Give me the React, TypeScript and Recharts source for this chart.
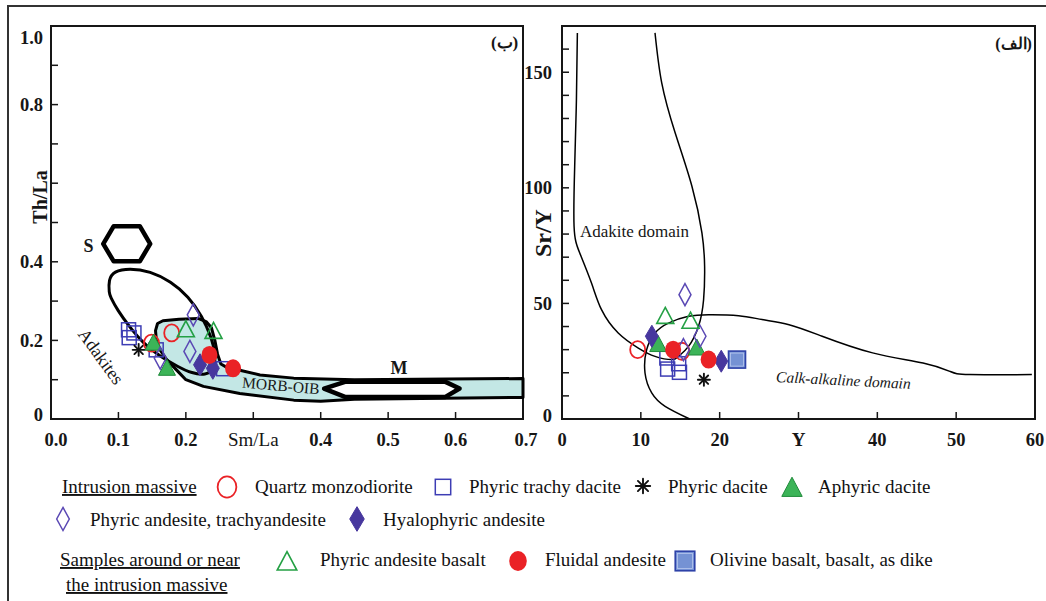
import React from 'react';
import { ScatterChart, Scatter, XAxis, YAxis, ReferenceArea } from 'recharts';

const SERIF = '"Liberation Serif", "Times New Roman", serif';
const INK = '#161616';
const RED = '#ea2226';
const BLUE = '#3d3db4';
const PURPLE = '#5a48b4';
const INDIGO = '#47379e';
const GREEN = '#24a044';
const GREEN_FILL = '#3cb458';
const GREEN_EDGE = '#1f8a3a';
const OLIVINE_FILL = '#7592d4';
const OLIVINE_EDGE = '#2e42a8';
const BAND = '#c3e7e5';

type Pair = [number, number];
type SampleKey =
  | 'trachyDacite' | 'olivine' | 'phyricDacite' | 'quartz' | 'aphyric'
  | 'andesite' | 'andesiteBasalt' | 'hyalophyric' | 'fluidal';

// ---- Sm/La vs Th/La (left panel) ----
const smLaTicks = [0, 0.1, 0.2, 0.3, 0.4, 0.5, 0.6, 0.7];
const smLaTickLabels = ['0.0', '0.1', '0.2', 'Sm/La', '0.4', '0.5', '0.6', '0.7'];
const thLaTicks = [0, 0.1, 0.2, 0.3, 0.4, 0.5, 0.6, 0.7, 0.8, 0.9, 1.0];
const thLaTickLabels = ['0', '', '0.2', '', '0.4', '', '', '', '0.8', '', '1.0'];

const smQuartz: Pair[] = [[0.149, 0.193], [0.179, 0.219]];
const smTrachyDacite: Pair[] = [[0.115, 0.227], [0.116, 0.207], [0.123, 0.219], [0.156, 0.176], [0.256, 0.128]];
const smPhyricDacite: Pair[] = [[0.130, 0.176]];
const smAphyric: Pair[] = [[0.152, 0.193], [0.172, 0.129]];
const smAndesite: Pair[] = [[0.211, 0.265], [0.206, 0.172], [0.162, 0.155]];
const smHyalophyric: Pair[] = [[0.221, 0.138], [0.240, 0.129]];
const smAndesiteBasalt: Pair[] = [[0.200, 0.227], [0.241, 0.223]];
const smFluidal: Pair[] = [[0.235, 0.163], [0.270, 0.129]];
const smOlivine: Pair[] = [];

const sFieldHex: Pair[] = [[0.0775, 0.4455], [0.093, 0.4906], [0.1317, 0.4906], [0.1471, 0.4455], [0.1317, 0.4012], [0.093, 0.4012]];
const mFieldHex: Pair[] = [[0.405, 0.0775], [0.436, 0.0945], [0.585, 0.0945], [0.606, 0.0775], [0.585, 0.0562], [0.436, 0.0562]];
const adakiteField: Pair[] = [
  [0.0863, 0.320], [0.0853, 0.354], [0.093, 0.376], [0.1162, 0.384], [0.1471, 0.376], [0.178, 0.350],
  [0.2038, 0.312], [0.2244, 0.261], [0.2373, 0.2095], [0.244, 0.167], [0.2425, 0.124], [0.2296, 0.112],
  [0.209, 0.116], [0.1884, 0.133], [0.1626, 0.158], [0.1368, 0.1925], [0.1162, 0.235], [0.0982, 0.278], [0.0878, 0.312],
];
const morbOibField: Pair[] = [
  [0.155, 0.225], [0.158, 0.243], [0.166, 0.250], [0.190, 0.254], [0.218, 0.256], [0.230, 0.248],
  [0.238, 0.232], [0.243, 0.200], [0.247, 0.165], [0.252, 0.140], [0.262, 0.130], [0.28, 0.124],
  [0.31, 0.112], [0.36, 0.104], [0.45, 0.100], [0.70, 0.103], [0.70, 0.055], [0.45, 0.050],
  [0.40, 0.045], [0.36, 0.048], [0.28, 0.065], [0.226, 0.083], [0.200, 0.100], [0.186, 0.125],
  [0.172, 0.150], [0.160, 0.180], [0.156, 0.205],
];
const leftNotes = [
  { x: 0.0557, y: 0.441, text: 'S' },
  { x: 0.516, y: 0.1286, text: 'M' },
  { x: 0.341, y: 0.0855, text: 'MORB-OIB' },
  { x: 0.074, y: 0.159, text: 'Adakites' },
  { x: 0.693, y: 0.957, text: '(ب)' },
];

// ---- Y vs Sr/Y (right panel) ----
const yTicks = [0, 10, 20, 30, 40, 50, 60];
const yTickLabels = ['0', '10', '20', 'Y', '40', '50', '60'];
const srYTicks = [0, 10, 20, 30, 40, 50, 60, 70, 80, 90, 100, 110, 120, 130, 140, 150, 160];
const srYTickLabels = ['0', '', '', '', '', '50', '', '', '', '', '100', '', '', '', '', '150', ''];

const yQuartz: Pair[] = [[9.6, 30.0], [15.2, 29.3]];
const yTrachyDacite: Pair[] = [[13.3, 26.4], [13.4, 21.6], [14.8, 23.9], [14.9, 20.2]];
const yPhyricDacite: Pair[] = [[18.0, 17.0]];
const yAphyric: Pair[] = [[12.2, 32.2], [17.1, 30.7]];
const yAndesite: Pair[] = [[15.6, 53.8], [17.5, 35.8], [15.4, 30.0]];
const yHyalophyric: Pair[] = [[11.4, 35.8], [20.2, 25.0]];
const yAndesiteBasalt: Pair[] = [[13.1, 44.4], [16.3, 42.3]];
const yFluidal: Pair[] = [[14.1, 30.0], [18.6, 25.7]];
const yOlivine: Pair[] = [[22.2, 25.7]];

const adakiteDomain: Pair[] = [
  [1.95, 167.0], [1.83, 138.2], [1.61, 109.3], [1.53, 83.4], [2.25, 71.8], [3.74, 58.8], [5.01, 47.3],
  [7.13, 37.2], [9.68, 30.7], [11.8, 27.1], [13.93, 25.7], [14.78, 27.1], [16.05, 31.4], [17.32, 40.1],
  [17.96, 51.6], [18.09, 66.1], [17.75, 80.5], [16.48, 100.7], [14.35, 123.8], [12.65, 145.4], [11.8, 167.0],
];
const calcAlkalineDomain: Pair[] = [
  [16.2, 0], [13.08, 5.5], [11.38, 11.3], [10.53, 19.9], [10.74, 30.0], [11.8, 37.2], [13.5, 41.5],
  [16.05, 44.4], [18.6, 45.1], [22.4, 44.7], [25.4, 43.0], [28.8, 40.8], [33.0, 35.8], [39.4, 28.6],
  [45.8, 24.2], [49.2, 20.6], [51.7, 19.2], [59.6, 19.2],
];
const rightNotes = [
  { x: 9.2, y: 81.2, text: 'Adakite domain' },
  { x: 35.7, y: 16.9, text: 'Calk-alkaline domain' },
  { x: 59.6, y: 162.5, text: '(الف)' },
];

const sampleOrder: SampleKey[] = [
  'trachyDacite', 'olivine', 'phyricDacite', 'quartz', 'aphyric', 'andesite', 'andesiteBasalt', 'hyalophyric', 'fluidal',
];
const sampleNames: Record<SampleKey, string> = {
  quartz: 'Quartz monzodiorite',
  trachyDacite: 'Phyric trachy dacite',
  phyricDacite: 'Phyric dacite',
  aphyric: 'Aphyric dacite',
  andesite: 'Phyric andesite, trachyandesite',
  hyalophyric: 'Hyalophyric andesite',
  andesiteBasalt: 'Phyric andesite basalt',
  fluidal: 'Fluidal andesite',
  olivine: 'Olivine basalt, basalt, as dike',
};
const leftSamples: Record<SampleKey, Pair[]> = {
  quartz: smQuartz, trachyDacite: smTrachyDacite, phyricDacite: smPhyricDacite, aphyric: smAphyric,
  andesite: smAndesite, hyalophyric: smHyalophyric, andesiteBasalt: smAndesiteBasalt, fluidal: smFluidal, olivine: smOlivine,
};
const rightSamples: Record<SampleKey, Pair[]> = {
  quartz: yQuartz, trachyDacite: yTrachyDacite, phyricDacite: yPhyricDacite, aphyric: yAphyric,
  andesite: yAndesite, hyalophyric: yHyalophyric, andesiteBasalt: yAndesiteBasalt, fluidal: yFluidal, olivine: yOlivine,
};

const toPoints = (pts: Pair[]) => pts.map(([x, y]) => ({ x, y }));

const markers: Record<SampleKey, (cx: number, cy: number, s: number) => React.ReactElement> = {
  quartz: (cx, cy, s) => (
    <ellipse cx={cx} cy={cy} rx={7.5 * s} ry={8.5 * s} fill="none" stroke={RED} strokeWidth={1.8} />
  ),
  trachyDacite: (cx, cy, s) => (
    <rect x={cx - 7 * s} y={cy - 7 * s} width={14 * s} height={14 * s} fill="none" stroke={BLUE} strokeWidth={1.5} />
  ),
  olivine: (cx, cy, s) => (
    <g>
      <rect x={cx - 8.5 * s} y={cy - 8.5 * s} width={17 * s} height={17 * s} fill={OLIVINE_FILL} stroke={OLIVINE_EDGE} strokeWidth={1.6} />
      <rect x={cx - 6.5 * s} y={cy - 6.5 * s} width={13 * s} height={13 * s} fill="none" stroke="#b9c8ee" strokeWidth={0.8} />
    </g>
  ),
  phyricDacite: (cx, cy, s) => {
    const r = 6 * s;
    const d = r * 0.707;
    return (
      <g stroke="#111" strokeWidth={1.9} strokeLinecap="round">
        <line x1={cx - r} y1={cy} x2={cx + r} y2={cy} />
        <line x1={cx} y1={cy - r} x2={cx} y2={cy + r} />
        <line x1={cx - d} y1={cy - d} x2={cx + d} y2={cy + d} />
        <line x1={cx - d} y1={cy + d} x2={cx + d} y2={cy - d} />
      </g>
    );
  },
  aphyric: (cx, cy, s) => (
    <polygon
      points={`${cx},${cy - 9 * s} ${cx + 8.5 * s},${cy + 7 * s} ${cx - 8.5 * s},${cy + 7 * s}`}
      fill={GREEN_FILL} stroke={GREEN_EDGE} strokeWidth={1} strokeLinejoin="round"
    />
  ),
  andesiteBasalt: (cx, cy, s) => (
    <polygon
      points={`${cx},${cy - 9 * s} ${cx + 8.5 * s},${cy + 7 * s} ${cx - 8.5 * s},${cy + 7 * s}`}
      fill="none" stroke={GREEN} strokeWidth={1.6}
    />
  ),
  andesite: (cx, cy, s) => (
    <polygon
      points={`${cx},${cy - 11 * s} ${cx + 6 * s},${cy} ${cx},${cy + 11 * s} ${cx - 6 * s},${cy}`}
      fill="none" stroke={PURPLE} strokeWidth={1.5}
    />
  ),
  hyalophyric: (cx, cy, s) => (
    <polygon
      points={`${cx},${cy - 11 * s} ${cx + 6.5 * s},${cy} ${cx},${cy + 11 * s} ${cx - 6.5 * s},${cy}`}
      fill={INDIGO} stroke={INDIGO} strokeWidth={1}
    />
  ),
  fluidal: (cx, cy, s) => <ellipse cx={cx} cy={cy} rx={8 * s} ry={9 * s} fill={RED} />,
};

const noteStyles: Record<string, { size: number; weight?: number; italic?: boolean; angle?: number; anchor?: 'start' | 'middle' | 'end' }> = {
  S: { size: 18, weight: 700 },
  M: { size: 18, weight: 700 },
  'MORB-OIB': { size: 15.5, angle: 5 },
  Adakites: { size: 18, angle: 54 },
  '(ب)': { size: 17, weight: 700, anchor: 'end' },
  'Adakite domain': { size: 17 },
  'Calk-alkaline domain': { size: 15.5, italic: true, angle: 3 },
  '(الف)': { size: 16, weight: 700, anchor: 'end' },
};

const NoteText = (p: any) => {
  const text: string = p.payload?.text ?? '';
  const st = noteStyles[text] ?? { size: 16 };
  return (
    <text
      x={p.cx}
      y={p.cy}
      textAnchor={st.anchor ?? 'middle'}
      dominantBaseline="central"
      fontFamily={SERIF}
      fontSize={st.size}
      fontWeight={st.weight ?? 400}
      fontStyle={st.italic ? 'italic' : 'normal'}
      fill={INK}
      transform={st.angle ? `rotate(${st.angle} ${p.cx} ${p.cy})` : undefined}
    >
      {text}
    </text>
  );
};

const hidden = () => <g />;

function makeTick(ticks: number[], labels: string[], anchor: 'middle' | 'end', dy: string, nudge: Record<number, [number, number]> = {}) {
  return (p: any) => {
    const i = ticks.indexOf(p.payload?.value);
    const label = i >= 0 ? labels[i] : '';
    if (!label) return <g />;
    const [nx, ny] = nudge[i] ?? [0, 0];
    const word = /[A-Za-z]/.test(label);
    return (
      <text
        x={p.x + nx}
        y={p.y + ny}
        dy={dy}
        textAnchor={anchor}
        fontFamily={SERIF}
        fontSize={word ? 19 : 18.5}
        fontWeight={label === 'Sm/La' ? 400 : 700}
        fill={INK}
      >
        {label}
      </text>
    );
  };
}

const axisTitle = (text: string, fx: number, fy: number, size: number) => (props: any) => {
  const vb = props.viewBox ?? { x: 0, y: 0, width: 0, height: 0 };
  const x = vb.x + fx;
  const y = vb.y + vb.height * fy;
  return (
    <text x={x} y={y} textAnchor="middle" dominantBaseline="central" fontFamily={SERIF} fontSize={size} fontWeight={700} fill={INK} transform={`rotate(-90 ${x} ${y})`}>
      {text}
    </text>
  );
};

const samplePlot = (sets: Record<SampleKey, Pair[]>) =>
  sampleOrder
    .filter((k) => sets[k].length > 0)
    .map((k) => (
      <Scatter
        key={k}
        name={sampleNames[k]}
        data={toPoints(sets[k])}
        shape={(p: any) => markers[k](p.cx, p.cy, 1)}
        isAnimationActive={false}
      />
    ));

const outline = (key: string, pts: Pair[], stroke: number, fill: string, joint: string) => (
  <Scatter
    key={key}
    data={toPoints(pts)}
    fill="none"
    shape={hidden}
    line={{ stroke: '#000', strokeWidth: stroke, fill, strokeLinejoin: 'round' }}
    lineType="joint"
    lineJointType={joint as any}
    isAnimationActive={false}
  />
);

const axisStroke = { stroke: INK, strokeWidth: 2 };
const tickStroke = { stroke: INK, strokeWidth: 1.5 };

const SmLaChart = () => (
  <ScatterChart width={545} height={460} margin={{ top: 26, right: 22, bottom: 11, left: 11 }}>
    <XAxis
      type="number" dataKey="x" domain={[0, 0.7]} ticks={smLaTicks} interval={0} height={30}
      axisLine={axisStroke} tickLine={tickStroke} tickSize={-7} tickMargin={21}
      tick={makeTick(smLaTicks, smLaTickLabels, 'middle', '0.71em', { 0: [5, 0], 7: [3, 0] })}
    />
    <YAxis
      type="number" dataKey="y" domain={[0, 1]} ticks={thLaTicks} interval={0} width={40}
      axisLine={axisStroke} tickLine={tickStroke} tickSize={-7} tickMargin={15}
      tick={makeTick(thLaTicks, thLaTickLabels, 'end', '0.355em', { 0: [0, -5], 10: [0, 11] })}
      label={axisTitle('Th/La', 29, 0.435, 20)}
    />
    <ReferenceArea x1={0} x2={0.7} y1={0} y2={1} fill="none" stroke={INK} strokeWidth={2} ifOverflow="visible" />
    {outline('morb', morbOibField, 3, BAND, 'linearClosed')}
    {outline('adakite', adakiteField, 3, 'none', 'basisClosed')}
    {outline('sHex', sFieldHex, 4.5, 'none', 'linearClosed')}
    {outline('mHex', mFieldHex, 4.5, '#ffffff', 'linearClosed')}
    {samplePlot(leftSamples)}
    <Scatter data={leftNotes} shape={NoteText} isAnimationActive={false} />
  </ScatterChart>
);

const SrYChart = () => (
  <ScatterChart width={526} height={460} margin={{ top: 26, right: 11, bottom: 11, left: 2 }}>
    <XAxis
      type="number" dataKey="x" domain={[0, 60]} ticks={yTicks} interval={0} height={30}
      axisLine={axisStroke} tickLine={tickStroke} tickSize={-7} tickMargin={21}
      tick={makeTick(yTicks, yTickLabels, 'middle', '0.71em')}
    />
    <YAxis
      type="number" dataKey="y" domain={[0, 170]} ticks={srYTicks} interval={0} width={40}
      axisLine={axisStroke} tickLine={tickStroke} tickSize={-7} tickMargin={17}
      tick={makeTick(srYTicks, srYTickLabels, 'end', '0.355em', { 0: [0, -4] })}
      label={axisTitle('Sr/Y', 21, 0.527, 24)}
    />
    <ReferenceArea x1={0} x2={60} y1={0} y2={170} fill="none" stroke={INK} strokeWidth={2} ifOverflow="visible" />
    {outline('adakiteDomain', adakiteDomain, 1.5, 'none', 'natural')}
    {outline('calcAlkaline', calcAlkalineDomain, 1.5, 'none', 'natural')}
    {samplePlot(rightSamples)}
    <Scatter data={rightNotes} shape={NoteText} isAnimationActive={false} />
  </ScatterChart>
);

const legendText = { fontFamily: SERIF, fontSize: 19, fill: '#111' };

const Legend = () => (
  <svg width={1046} height={141} style={{ position: 'absolute', left: 0, top: 460 }}>
    <text x={62} y={33} {...legendText} style={{ textDecoration: 'underline' }}>Intrusion massive</text>
    {markers.quartz(227, 27, 1.25)}
    <text x={255} y={33} {...legendText}>{sampleNames.quartz}</text>
    {markers.trachyDacite(443, 27, 1.1)}
    <text x={469} y={33} {...legendText}>{sampleNames.trachyDacite}</text>
    {markers.phyricDacite(643, 26, 1.2)}
    <text x={668} y={33} {...legendText}>{sampleNames.phyricDacite}</text>
    {markers.aphyric(792, 28, 1.2)}
    <text x={818} y={33} {...legendText}>{sampleNames.aphyric}</text>

    {markers.andesite(63, 59, 1.05)}
    <text x={90} y={66} {...legendText}>{sampleNames.andesite}</text>
    {markers.hyalophyric(357, 59, 1.12)}
    <text x={383} y={66} {...legendText}>{sampleNames.hyalophyric}</text>

    <text x={60} y={106} {...legendText} style={{ textDecoration: 'underline' }}>Samples around or near</text>
    <text x={66} y={131} {...legendText} style={{ textDecoration: 'underline' }}>the intrusion massive</text>
    {markers.andesiteBasalt(287, 102, 1.15)}
    <text x={320} y={106} {...legendText}>{sampleNames.andesiteBasalt}</text>
    {markers.fluidal(518, 101, 1.1)}
    <text x={545} y={106} {...legendText}>{sampleNames.fluidal}</text>
    {markers.olivine(685, 101, 1.15)}
    <text x={710} y={106} {...legendText}>{sampleNames.olivine}</text>
  </svg>
);

export default function App() {
  return (
    <div style={{ position: 'absolute', left: 0, top: 0, width: 1046, height: 601, background: '#fff', overflow: 'hidden' }}>
      <div style={{ position: 'absolute', left: 7, top: 5, width: 1046, height: 610, borderLeft: '2px solid #333', borderTop: '2px solid #333' }} />
      <div style={{ position: 'absolute', left: 0, top: 0 }}>
        <SmLaChart />
      </div>
      <div style={{ position: 'absolute', left: 520, top: 0 }}>
        <SrYChart />
      </div>
      <Legend />
    </div>
  );
}
